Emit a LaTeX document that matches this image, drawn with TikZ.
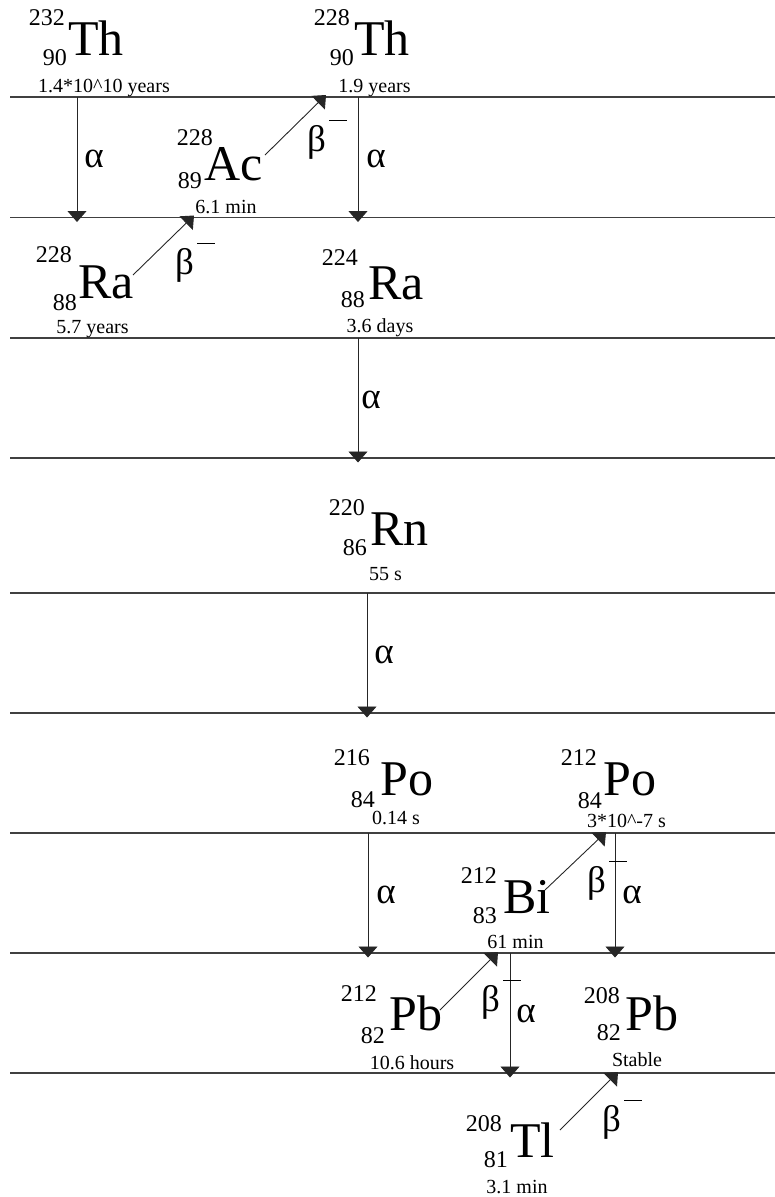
\documentclass[tikz,border=0pt]{standalone}
\usepackage{fontspec}
\setmainfont{Liberation Serif}
\usetikzlibrary{arrows.meta}
\tikzset{
  sym/.style={font=\fontsize{50}{50}\selectfont, inner sep=0pt, anchor=base west},
  mass/.style={font=\fontsize{24}{24}\selectfont, inner sep=0pt, anchor=base east},
  anum/.style={font=\fontsize{24}{24}\selectfont, inner sep=0pt, anchor=base east},
  half/.style={font=\fontsize{20}{20}\selectfont, inner sep=0pt, anchor=base},
  alab/.style={font=\fontsize{37}{37}\selectfont, inner sep=0pt, anchor=base},
  blab/.style={font=\fontsize{37}{37}\selectfont, inner sep=0pt, anchor=base west},
  level/.style={draw=black!75, line width=1.3pt},
  decay/.style={draw=black!85, line width=0.9pt, -{Triangle[width=19pt,length=11pt]}},
}
\newcommand{\betaminus}{β\hspace{3pt}\raisebox{30pt}{\rule{18pt}{0.8pt}}}
\begin{document}
\begin{tikzpicture}[x=1pt,y=-1pt]
\useasboundingbox (0,0) rectangle (775,1197);
% levels
\foreach \i/\y in {1/97,2/217.5,3/338,4/458,5/593,6/713,7/833,8/953,9/1073}{
  \coordinate (L\i w) at (10,\y);
  \coordinate (L\i e) at (775,\y);
  \draw[level] (L\i w) -- (L\i e);
}
% Th232
\node[mass] (th232m) at (65,25) {232};
\node[anum] (th232z) at (67,65) {90};
\node[sym]  (th232)  at (68,55) {Th};
\node[half] (th232h) at (104,92) {1.4*10\textasciicircum10 years};
% Th228
\node[mass] (th228m) at (350,25) {228};
\node[anum] (th228z) at (354,65) {90};
\node[sym]  (th228)  at (354,55) {Th};
\node[half] (th228h) at (374.5,92) {1.9 years};
% Ac228
\node[mass] (ac228m) at (213,145) {228};
\node[anum] (ac228z) at (202,188) {89};
\node[sym]  (ac228)  at (204,180) {Ac};
\node[half] (ac228h) at (226,213) {6.1 min};
% Ra228
\node[mass] (ra228m) at (72,262) {228};
\node[anum] (ra228z) at (77,310) {88};
\node[sym]  (ra228)  at (78,298) {Ra};
\node[half] (ra228h) at (92.5,333) {5.7 years};
% Ra224
\node[mass] (ra224m) at (358,265) {224};
\node[anum] (ra224z) at (365,307) {88};
\node[sym]  (ra224)  at (368,299) {Ra};
\node[half] (ra224h) at (380,332) {3.6 days};
% Rn220
\node[mass] (rn220m) at (365,515) {220};
\node[anum] (rn220z) at (367,555) {86};
\node[sym]  (rn220)  at (370,545) {Rn};
\node[half] (rn220h) at (385.5,580) {55 s};
% Po216
\node[mass] (po216m) at (370,765) {216};
\node[anum] (po216z) at (375,807) {84};
\node[sym]  (po216)  at (380,795) {Po};
\node[half] (po216h) at (396,824) {0.14 s};
% Po212
\node[mass] (po212m) at (597,765) {212};
\node[anum] (po212z) at (602,808) {84};
\node[sym]  (po212)  at (603,795) {Po};
\node[half] (po212h) at (626.5,827) {3*10\textasciicircum-7 s};
% Bi212
\node[mass] (bi212m) at (497,883) {212};
\node[anum] (bi212z) at (497,923) {83};
\node[sym]  (bi212)  at (503,913) {Bi};
\node[half] (bi212h) at (515.5,948) {61 min};
% Pb212
\node[mass] (pb212m) at (377,1001) {212};
\node[anum] (pb212z) at (385,1043) {82};
\node[sym]  (pb212)  at (389,1030) {Pb};
\node[half] (pb212h) at (412,1069) {10.6 hours};
% Pb208
\node[mass] (pb208m) at (620,1003) {208};
\node[anum] (pb208z) at (621,1040) {82};
\node[sym]  (pb208)  at (625,1030) {Pb};
\node[half] (pb208h) at (637,1066) {Stable};
% Tl208
\node[mass] (tl208m) at (502,1131) {208};
\node[anum] (tl208z) at (508,1167) {81};
\node[sym]  (tl208)  at (510,1157) {Tl};
\node[half] (tl208h) at (517,1193) {3.1 min};
% alpha decays
\foreach \n/\x/\ya/\yb in {a1/77/97/222, a2/358/97/222, a3/358/338/462.5, a4/367/593/717.5, a5/368/833/957.5, a6/615/833/957.5, a7/510/953/1077.5}{
  \coordinate (\n s) at (\x,\ya);
  \coordinate (\n e) at (\x,\yb);
  \draw[decay] (\n s) -- (\n e);
}
\node[alab] (al1) at (94,167) {α};
\node[alab] (al2) at (376,167) {α};
\node[alab] (al3) at (371,408) {α};
\node[alab] (al4) at (384,663) {α};
\node[alab] (al5) at (386,903) {α};
\node[alab] (al6) at (632,903) {α};
\node[alab] (al7) at (526,1022) {α};
% beta decays
\foreach \n/\xa/\ya/\xb/\yb in {d1/133/275/194/215.5, d2/265/155/326/95, d3/545/890/606/832, d4/440/1010/498/952, d5/560/1130/618/1072}{
  \coordinate (\n s) at (\xa,\ya);
  \coordinate (\n e) at (\xb,\yb);
  \draw[decay] (\n s) -- (\n e);
}
\node[blab] (bl1) at (175,274) {\betaminus};
\node[blab] (bl2) at (307,151) {\betaminus};
\node[blab] (bl3) at (587,892) {\betaminus};
\node[blab] (bl4) at (481,1011) {\betaminus};
\node[blab] (bl5) at (602,1131) {\betaminus};
\end{tikzpicture}
\end{document}
